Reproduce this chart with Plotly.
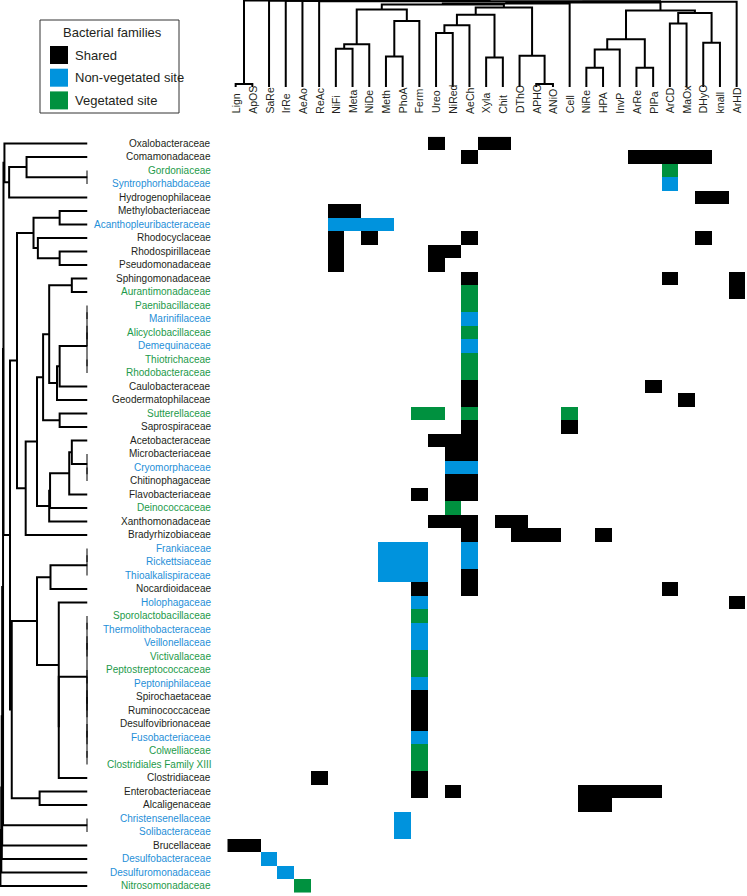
import plotly.graph_objects as go

W, H = 747, 896

# functional genes / processes (columns, already in dendrogram order)
functions = ["Lign", "ApOS", "SaRe", "IrRe", "AeAo", "ReAc", "NiFi", "Meta", "NiDe", "Meth",
             "PhoA", "Ferm", "Ureo", "NiRed", "AeCh", "Xyla", "Chit", "DThO", "APHO", "ANiO",
             "Cell", "NiRe", "HPA", "InvP", "ArRe", "PlPa", "ArCD", "MaOx", "DHyO", "knall", "ArHD"]

# bacterial families (rows) and where they were found: S shared, N non-vegetated, V vegetated
families = ["Oxalobacteraceae", "Comamonadaceae", "Gordoniaceae", "Syntrophorhabdaceae",
            "Hydrogenophilaceae", "Methylobacteriaceae", "Acanthopleuribacteraceae", "Rhodocyclaceae",
            "Rhodospirillaceae", "Pseudomonadaceae", "Sphingomonadaceae", "Aurantimonadaceae",
            "Paenibacillaceae", "Marinifilaceae", "Alicyclobacillaceae", "Demequinaceae",
            "Thiotrichaceae", "Rhodobacteraceae", "Caulobacteraceae", "Geodermatophilaceae",
            "Sutterellaceae", "Saprospiraceae", "Acetobacteraceae", "Microbacteriaceae",
            "Cryomorphaceae", "Chitinophagaceae", "Flavobacteriaceae", "Deinococcaceae",
            "Xanthomonadaceae", "Bradyrhizobiaceae", "Frankiaceae", "Rickettsiaceae",
            "Thioalkalispiraceae", "Nocardioidaceae", "Holophagaceae", "Sporolactobacillaceae",
            "Thermolithobacteraceae", "Veillonellaceae", "Victivallaceae", "Peptostreptococcaceae",
            "Peptoniphilaceae", "Spirochaetaceae", "Ruminococcaceae", "Desulfovibrionaceae",
            "Fusobacteriaceae", "Colwelliaceae", "Clostridiales Family XIII", "Clostridiaceae",
            "Enterobacteriaceae", "Alcaligenaceae", "Christensenellaceae", "Solibacteraceae",
            "Brucellaceae", "Desulfobacteraceae", "Desulfuromonadaceae", "Nitrosomonadaceae"]
family_site = ["S", "S", "V", "N", "S", "S", "N", "S", "S", "S", "S", "V", "V", "N", "V", "N",
               "V", "V", "S", "S", "V", "S", "S", "S", "N", "S", "S", "V", "S", "S", "N", "N",
               "N", "S", "N", "V", "N", "N", "V", "V", "N", "S", "S", "S", "N", "V", "V", "S",
               "S", "S", "N", "N", "S", "N", "N", "V"]

# presence of each family in each function, by site
cells = {
    "Oxalobacteraceae": {"S": ["Ureo", "Xyla", "Chit"]},
    "Comamonadaceae": {"S": ["AeCh", "ArRe", "PlPa", "ArCD", "MaOx", "DHyO"]},
    "Gordoniaceae": {"V": ["ArCD"]},
    "Syntrophorhabdaceae": {"N": ["ArCD"]},
    "Hydrogenophilaceae": {"S": ["DHyO", "knall"]},
    "Methylobacteriaceae": {"S": ["NiFi", "Meta"]},
    "Acanthopleuribacteraceae": {"N": ["NiFi", "Meta", "NiDe", "Meth"]},
    "Rhodocyclaceae": {"S": ["NiFi", "NiDe", "AeCh", "DHyO"]},
    "Rhodospirillaceae": {"S": ["NiFi", "Ureo", "NiRed"]},
    "Pseudomonadaceae": {"S": ["NiFi", "Ureo"]},
    "Sphingomonadaceae": {"S": ["AeCh", "ArCD", "ArHD"]},
    "Aurantimonadaceae": {"V": ["AeCh"], "S": ["ArHD"]},
    "Paenibacillaceae": {"V": ["AeCh"]},
    "Marinifilaceae": {"N": ["AeCh"]},
    "Alicyclobacillaceae": {"V": ["AeCh"]},
    "Demequinaceae": {"N": ["AeCh"]},
    "Thiotrichaceae": {"V": ["AeCh"]},
    "Rhodobacteraceae": {"V": ["AeCh"]},
    "Caulobacteraceae": {"S": ["AeCh", "PlPa"]},
    "Geodermatophilaceae": {"S": ["AeCh", "MaOx"]},
    "Sutterellaceae": {"V": ["Ferm", "Ureo", "AeCh", "Cell"]},
    "Saprospiraceae": {"S": ["AeCh", "Cell"]},
    "Acetobacteraceae": {"S": ["Ureo", "NiRed", "AeCh"]},
    "Microbacteriaceae": {"S": ["NiRed", "AeCh"]},
    "Cryomorphaceae": {"N": ["NiRed", "AeCh"]},
    "Chitinophagaceae": {"S": ["NiRed", "AeCh"]},
    "Flavobacteriaceae": {"S": ["Ferm", "NiRed", "AeCh"]},
    "Deinococcaceae": {"V": ["NiRed"]},
    "Xanthomonadaceae": {"S": ["Ureo", "NiRed", "AeCh", "Chit", "DThO"]},
    "Bradyrhizobiaceae": {"S": ["AeCh", "DThO", "APHO", "ANiO", "HPA"]},
    "Frankiaceae": {"N": ["Meth", "PhoA", "Ferm", "AeCh"]},
    "Rickettsiaceae": {"N": ["Meth", "PhoA", "Ferm", "AeCh"]},
    "Thioalkalispiraceae": {"N": ["Meth", "PhoA", "Ferm"], "S": ["AeCh"]},
    "Nocardioidaceae": {"S": ["Ferm", "AeCh", "ArCD"]},
    "Holophagaceae": {"N": ["Ferm"], "S": ["ArHD"]},
    "Sporolactobacillaceae": {"V": ["Ferm"]},
    "Thermolithobacteraceae": {"N": ["Ferm"]},
    "Veillonellaceae": {"N": ["Ferm"]},
    "Victivallaceae": {"V": ["Ferm"]},
    "Peptostreptococcaceae": {"V": ["Ferm"]},
    "Peptoniphilaceae": {"N": ["Ferm"]},
    "Spirochaetaceae": {"S": ["Ferm"]},
    "Ruminococcaceae": {"S": ["Ferm"]},
    "Desulfovibrionaceae": {"S": ["Ferm"]},
    "Fusobacteriaceae": {"N": ["Ferm"]},
    "Colwelliaceae": {"V": ["Ferm"]},
    "Clostridiales Family XIII": {"V": ["Ferm"]},
    "Clostridiaceae": {"S": ["ReAc", "Ferm"]},
    "Enterobacteriaceae": {"S": ["Ferm", "NiRed", "NiRe", "HPA", "InvP", "ArRe", "PlPa"]},
    "Alcaligenaceae": {"S": ["NiRe", "HPA"]},
    "Christensenellaceae": {"N": ["PhoA"]},
    "Solibacteraceae": {"N": ["PhoA"]},
    "Brucellaceae": {"S": ["Lign", "ApOS"]},
    "Desulfobacteraceae": {"N": ["SaRe"]},
    "Desulfuromonadaceae": {"N": ["IrRe"]},
    "Nitrosomonadaceae": {"V": ["AeAo"]},
}

# clustering of functions: (cluster, left, right, distance)
top_merges = [
    ("t1", "Lign", "ApOS", 0.035), ("t2", "NiFi", "Meta", 0.44), ("t3", "t2", "NiDe", 0.49),
    ("t4", "Meth", "PhoA", 0.35), ("t5", "t4", "Ferm", 0.76), ("t6", "t3", "t5", 0.89),
    ("t7", "Ureo", "NiRed", 0.62), ("t8", "t7", "AeCh", 0.71), ("t9", "Xyla", "Chit", 0.34),
    ("t10", "t8", "t9", 0.83), ("t11", "APHO", "ANiO", 0.035), ("t12", "DThO", "t11", 0.36),
    ("t13", "t10", "t12", 0.915), ("t14", "NiRe", "HPA", 0.22), ("t15", "t14", "InvP", 0.43),
    ("t16", "ArRe", "PlPa", 0.22), ("t17", "t15", "t16", 0.55), ("t18", "ArCD", "MaOx", 0.73),
    ("t19", "DHyO", "knall", 0.51), ("t20", "t18", "t19", 0.85), ("t21", "t17", "t20", 0.88),
    ("t22", "t6", "t13", 0.948), ("t23", "t22", "Cell", 0.96), ("t24", "t23", "t21", 0.971),
    ("t25", "t24", "ArHD", 0.979), ("t26", "ReAc", "t25", 0.986), ("t27", "AeAo", "t26", 0.988),
    ("t28", "IrRe", "t27", 0.99), ("t29", "SaRe", "t28", 0.993), ("t30", "t1", "t29", 0.995),
]

# clustering of families
left_merges = [
    ("g1", "Gordoniaceae", "Syntrophorhabdaceae", 0.0), ("g2", "Comamonadaceae", "g1", 0.70),
    ("g3", "g2", "Hydrogenophilaceae", 0.90), ("g4", "Oxalobacteraceae", "g3", 0.954),
    ("m1", "Methylobacteriaceae", "Acanthopleuribacteraceae", 0.32),
    ("m2", "Rhodospirillaceae", "Pseudomonadaceae", 0.32), ("m3", "Rhodocyclaceae", "m2", 0.57),
    ("m4", "m1", "m3", 0.62),
    ("s1", "Sphingomonadaceae", "Aurantimonadaceae", 0.18),
    ("s2", "Paenibacillaceae", "Marinifilaceae", 0.0), ("s3", "Alicyclobacillaceae", "Demequinaceae", 0.0),
    ("s4", "s2", "s3", 0.0), ("s5", "Thiotrichaceae", "Rhodobacteraceae", 0.0), ("s6", "s4", "s5", 0.0),
    ("s7", "s6", "Caulobacteraceae", 0.32), ("s8", "s7", "Geodermatophilaceae", 0.35),
    ("s9", "s1", "s8", 0.44), ("s10", "Sutterellaceae", "Saprospiraceae", 0.32), ("s11", "s9", "s10", 0.51),
    ("a1", "Cryomorphaceae", "Chitinophagaceae", 0.0), ("a2", "Microbacteriaceae", "a1", 0.0),
    ("a3", "Acetobacteraceae", "a2", 0.18), ("a4", "a3", "Flavobacteriaceae", 0.21),
    ("a5", "a4", "Deinococcaceae", 0.43), ("a6", "a5", "Xanthomonadaceae", 0.44),
    ("a7", "s11", "a6", 0.58), ("a8", "a7", "Bradyrhizobiaceae", 0.71), ("a9", "m4", "a8", 0.81),
    ("f1", "Frankiaceae", "Rickettsiaceae", 0.0), ("f2", "f1", "Thioalkalispiraceae", 0.0),
    ("f3", "f2", "Nocardioidaceae", 0.425),
    ("c1", "Sporolactobacillaceae", "Thermolithobacteraceae", 0.0),
    ("c2", "Veillonellaceae", "Victivallaceae", 0.0),
    ("c3", "Peptostreptococcaceae", "Peptoniphilaceae", 0.0),
    ("c4", "Spirochaetaceae", "Ruminococcaceae", 0.0),
    ("c5", "Desulfovibrionaceae", "Fusobacteriaceae", 0.0),
    ("c6", "Colwelliaceae", "Clostridiales Family XIII", 0.0),
    ("c7", "c1", "c2", 0.0), ("c8", "c3", "c4", 0.0), ("c9", "c5", "c6", 0.0),
    ("c10", "c8", "c9", 0.0), ("c11", "c7", "c10", 0.0),
    ("c12", "c11", "Clostridiaceae", 0.33), ("c13", "Holophagaceae", "c12", 0.33),
    ("f4", "f3", "c13", 0.58), ("e1", "Enterobacteriaceae", "Alcaligenaceae", 0.55),
    ("f5", "f4", "e1", 0.87), ("r1", "a9", "f5", 0.89), ("r2", "g4", "r1", 0.965),
    ("b1", "Christensenellaceae", "Solibacteraceae", 0.0), ("r3", "r2", "b1", 0.97),
    ("r4", "r3", "Brucellaceae", 0.98), ("r5", "r4", "Desulfobacteraceae", 0.985),
    ("r6", "r5", "Desulfuromonadaceae", 0.99), ("r7", "r6", "Nitrosomonadaceae", 1.0),
]

site_names = ["Shared", "Non-vegetated site", "Vegetated site"]
cell_colors = {"S": "#000000", "N": "#0093dd", "V": "#00913f"}
text_colors = {"S": "#231f20", "N": "#1f8fd8", "V": "#1d9a4a"}
site_code = {"S": 1, "N": 2, "V": 3}


def dendro_lines(merges, leaves):
    # scipy style: up from each child to the merge distance, across, and down
    pos = {name: i for i, name in enumerate(leaves)}
    hgt = {name: 0.0 for name in leaves}
    p, d = [], []
    for name, a, b, h in merges:
        p += [pos[a], pos[a], pos[b], pos[b], None]
        d += [hgt[a], h, h, hgt[b], None]
        pos[name] = (pos[a] + pos[b]) / 2
        hgt[name] = h
    return p, d


# heatmap matrix
z = []
for fam in families:
    row = [None] * len(functions)
    for site, funcs in cells.get(fam, {}).items():
        for f in funcs:
            row[functions.index(f)] = site_code[site]
    z.append(row)

fig = go.Figure()

fig.add_trace(go.Heatmap(
    z=z, x=list(range(len(functions))), y=list(range(len(families))),
    zmin=0.5, zmax=3.5, showscale=False, hoverinfo="skip",
    colorscale=[[0, cell_colors["S"]], [1/3, cell_colors["S"]],
                [1/3, cell_colors["N"]], [2/3, cell_colors["N"]],
                [2/3, cell_colors["V"]], [1, cell_colors["V"]]],
))

# top dendrogram (functions)
tx, ty = dendro_lines(top_merges, functions)
fig.add_trace(go.Scatter(x=tx, y=ty, xaxis="x", yaxis="y2", mode="lines",
                         line=dict(color="black", width=2), hoverinfo="skip"))

# left dendrogram (families)
ly, lx = dendro_lines(left_merges, families)
fig.add_trace(go.Scatter(x=lx, y=ly, xaxis="x2", yaxis="y", mode="lines",
                         line=dict(color="black", width=2), hoverinfo="skip"))

font_family = "Liberation Sans, Arial, sans-serif"
annotations = []
for i, fam in enumerate(families):
    annotations.append(dict(
        x=212.5 / W, xref="paper", y=i, yref="y", text=fam, showarrow=False,
        xanchor="right", yanchor="middle",
        font=dict(family=font_family, size=10, color=text_colors[family_site[i]])))
for j, f in enumerate(functions):
    annotations.append(dict(
        x=j, xref="x", y=1 - 115.5 / H, yref="paper", text=f, showarrow=False,
        textangle=-90, xanchor="center", yanchor="bottom",
        font=dict(family=font_family, size=10.5, color="#231f20")))

# legend box
shapes = [dict(type="rect", xref="paper", yref="paper", x0=40 / W, x1=179 / W,
               y0=1 - 113 / H, y1=1 - 20 / H, line=dict(color="#333", width=1))]
annotations.append(dict(x=112 / W, xref="paper", y=1 - 33 / H, yref="paper",
                        text="Bacterial families", showarrow=False, xanchor="center",
                        yanchor="middle",
                        font=dict(family=font_family, size=13, color="#231f20")))
for k, key in enumerate(["S", "N", "V"]):
    top = 46 + k * 22.7
    shapes.append(dict(type="rect", xref="paper", yref="paper", x0=50 / W, x1=68 / W,
                       y0=1 - (top + 18) / H, y1=1 - top / H,
                       fillcolor=cell_colors[key], line=dict(width=0)))
    annotations.append(dict(x=73 / W, xref="paper", y=1 - (top + 9) / H, yref="paper",
                            text=site_names[k], showarrow=False, xanchor="left",
                            yanchor="middle",
                            font=dict(family=font_family, size=13, color="#231f20")))

fig.update_layout(
    width=W, height=H, margin=dict(l=0, r=0, t=0, b=0),
    plot_bgcolor="white", paper_bgcolor="white", showlegend=False,
    xaxis=dict(domain=[227.3 / W, 745 / W], range=[-0.5, len(functions) - 0.5],
               visible=False, anchor="y"),
    yaxis=dict(domain=[1 - 892.7 / H, 1 - 136.7 / H], range=[len(families) - 0.5, -0.5],
               visible=False, anchor="x"),
    xaxis2=dict(domain=[0, 87.5 / W], range=[1.005, 0], visible=False, anchor="y"),
    yaxis2=dict(domain=[1 - 87 / H, 1], range=[0, 1.0], visible=False, anchor="x"),
    annotations=annotations, shapes=shapes,
)

# page body has a default 8px margin; drop it so the figure sits at the window corner
fig.write_html("out.html", config={"displayModeBar": False},
               post_script="document.body.style.margin='0';")
